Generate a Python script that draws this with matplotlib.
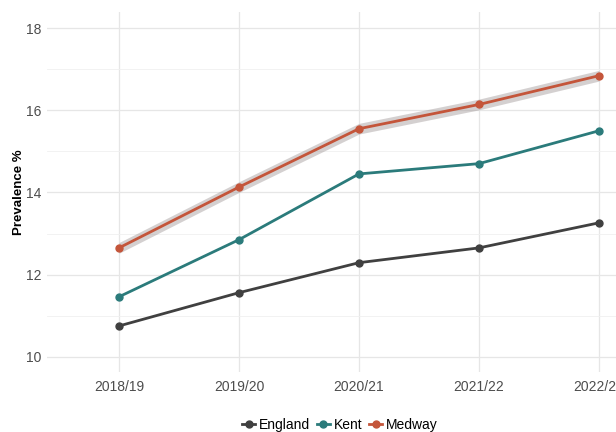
import matplotlib.pyplot as plt
from matplotlib.lines import Line2D
import numpy as np

plt.rcParams['font.family'] = ['Liberation Sans', 'DejaVu Sans']

years = ['2018/19', '2019/20', '2020/21', '2021/22', '2022/23']
england = [10.75, 11.56, 12.29, 12.65, 13.26]
kent = [11.46, 12.85, 14.45, 14.70, 15.50]
medway = [12.65, 14.13, 15.55, 16.14, 16.84]
medway_ci = [0.13, 0.13, 0.13, 0.13, 0.13]

colors = {'England': '#404040', 'Kent': '#2b7b7b', 'Medway': '#c4553a'}

fig = plt.figure(figsize=(6.16, 4.32), dpi=100)
ax = fig.add_axes([47 / 616, 60 / 432, 624 / 616, 360 / 432])

x = np.arange(1, len(years) + 1)

# grey ribbon for medway
lo = np.array(medway) - np.array(medway_ci)
hi = np.array(medway) + np.array(medway_ci)
ax.fill_between(x, lo, hi, color='#a09898', alpha=0.45, lw=0, zorder=2)

for name, vals in [('England', england), ('Kent', kent), ('Medway', medway)]:
    ax.plot(x, vals, color=colors[name], lw=2.0, marker='o', ms=5, zorder=3)

ax.set_xlim(0.4, 5.6)
ax.set_ylim(9.63, 18.39)
ax.set_xticks(x)
ax.set_xticklabels(years)
ax.set_yticks([10, 12, 14, 16, 18])
ax.set_yticks([11, 13, 15, 17], minor=True)
ax.grid(which='major', color='#e6e6e6', lw=0.9)
ax.grid(which='minor', axis='y', color='#f0f0f0', lw=0.6)
ax.set_axisbelow(True)
for s in ax.spines.values():
    s.set_visible(False)
ax.tick_params(which='both', length=0, labelsize=10, labelcolor='#4d4d4d')
ax.tick_params(axis='x', pad=6)
ax.tick_params(axis='y', pad=4)
ax.set_ylabel('Prevalence %', fontsize=9.5, fontweight='bold', labelpad=1)

handles = [Line2D([0], [0], color=colors[n], lw=2, marker='o', ms=5) for n in ['England', 'Kent', 'Medway']]
fig.legend(handles, ['England', 'Kent', 'Medway'], loc='center', bbox_to_anchor=(340 / 616, 1 - 425 / 432),
           ncol=3, frameon=False, fontsize=10, handlelength=0.9, handletextpad=0.3, columnspacing=0.5)

fig.savefig('out.png', dpi=100)
